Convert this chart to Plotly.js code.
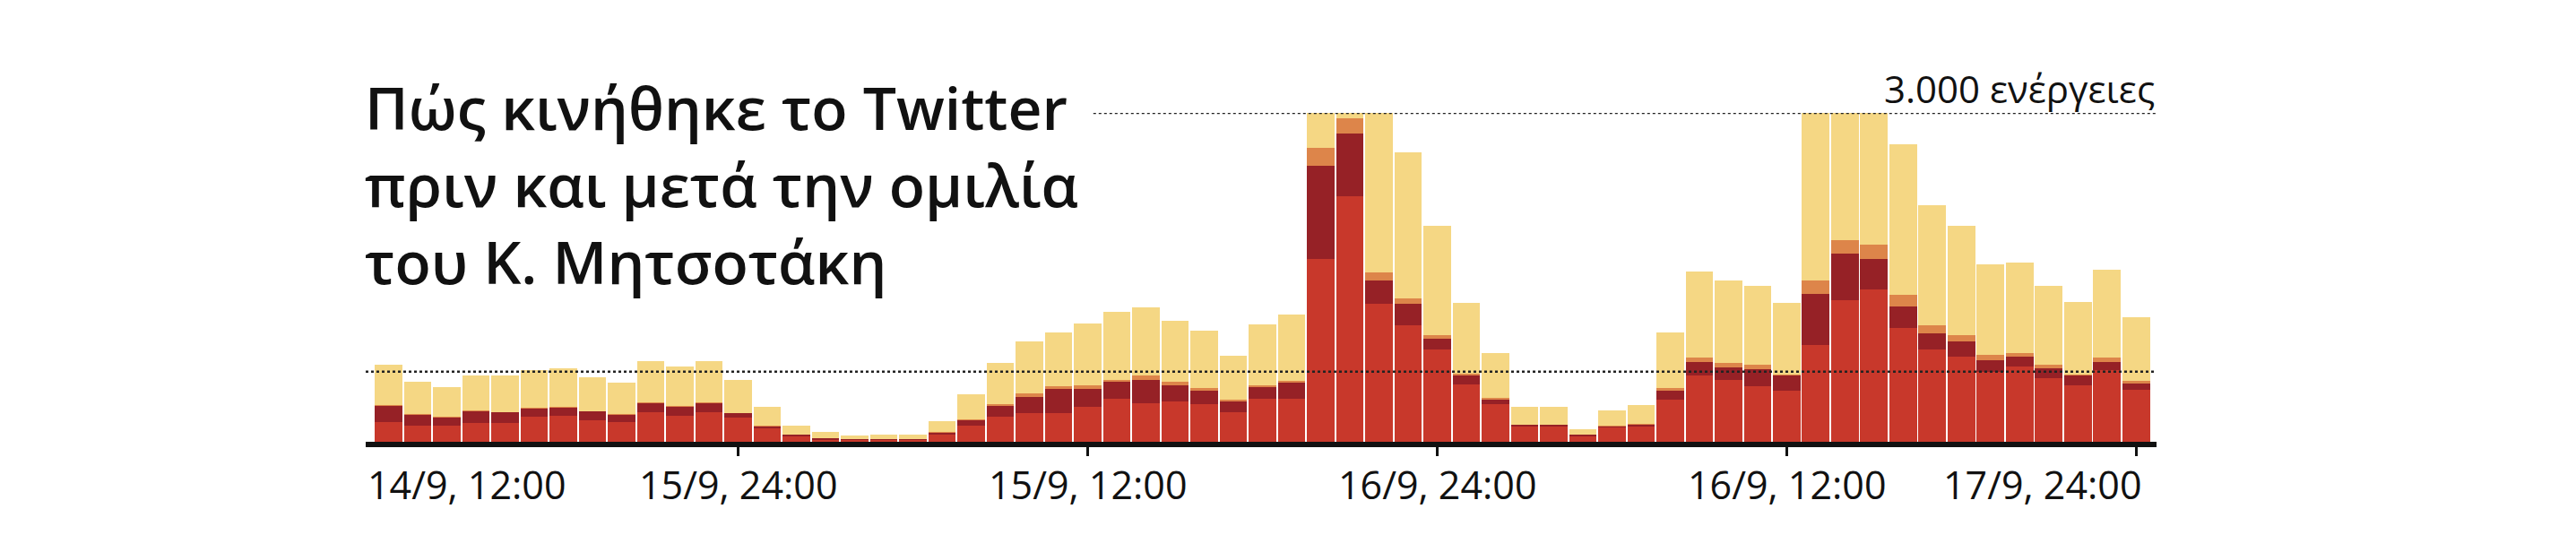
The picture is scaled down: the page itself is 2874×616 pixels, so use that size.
<!DOCTYPE html>
<html>
<head>
<meta charset="utf-8">
<script src="https://cdn.plot.ly/plotly-3.0.1.min.js"></script>
<style>
  html, body { margin: 0; padding: 0; background: #fff; }
  #chart { width: 2874px; height: 616px; }
</style>
</head>
<body>
<div id="chart"></div>
<script>
// hourly Twitter activity, 14/9 12:00 -> 17/9 24:00, four stacked layers (bottom to top)
const redVals = [183, 150, 150, 169, 169, 227, 238, 199, 183, 273, 238, 273,
    224, 123, 49, 19, 14, 14, 14, 68, 145, 232, 259, 265,
    319, 390, 355, 369, 341, 268, 396, 390, 1665, 2239, 1256, 1065,
    841, 527, 347, 142, 142, 49, 131, 137, 382, 609, 565, 505,
    464, 882, 1291, 1387, 1037, 846, 778, 636, 688, 581, 511, 655, 472];
const darkVals = [140, 95, 70, 110, 97, 72, 74, 75, 64, 80, 77, 75,
    35, 18, 16, 12, 7, 7, 7, 16, 55, 95, 150, 218,
    164, 160, 205, 142, 123, 101, 104, 150, 855, 573, 213, 191,
    101, 82, 41, 14, 14, 14, 11, 22, 82, 115, 117, 158,
    137, 464, 429, 278, 199, 145, 137, 109, 85, 87, 90, 76, 60];
const orangeVals = [10, 9, 6, 8, 7, 8, 8, 7, 7, 8, 8, 8,
    6, 4, 3, 2, 1, 1, 1, 3, 8, 19, 33, 27,
    35, 14, 41, 35, 27, 19, 19, 19, 161, 137, 74, 55,
    33, 14, 14, 2, 2, 1, 2, 3, 27, 41, 41, 38,
    14, 123, 123, 137, 106, 74, 60, 52, 33, 33, 14, 41, 22];
const yellowVals = [371, 292, 270, 322, 328, 349, 349, 306, 284, 377, 366, 382,
    303, 175, 82, 55, 33, 41, 41, 98, 229, 376, 472, 491,
    560, 624, 622, 560, 519, 399, 554, 601, 469, 250, 1600, 1330,
    996, 642, 404, 164, 164, 53, 143, 174, 505, 786, 745, 723,
    655, 1650, 1300, 1350, 1373, 1092, 996, 819, 833, 718, 663, 797, 579];

const tickPos = [0, 12, 24, 36, 48, 60];
const tickText = ['14/9, 12:00', '15/9, 24:00', '15/9, 12:00', '16/9, 24:00', '16/9, 12:00', '17/9, 24:00'];
const refLevels = [640, 3000];
const capLabel = '3.000 ενέργειες';
const titleLines = ['Πώς κινήθηκε το Twitter', 'πριν και μετά την ομιλία', 'του Κ. Μητσοτάκη'];

const hours = redVals.map((v, i) => i);

const colors = ['#c8382b', '#962126', '#dd854a', '#f5d784'];
const layers = [redVals, darkVals, orangeVals, yellowVals];

const traces = layers.map((vals, k) => ({
    type: 'bar',
    x: hours,
    y: vals,
    marker: { color: colors[k], line: { width: 0 } },
    hoverinfo: 'skip'
}));

const font = 'Open Sans, Noto Sans, DejaVu Sans, sans-serif';

let annotations = [];
tickText.forEach((t, i) => {
    let anchor = 'center';
    let shift = 0;
    if (i === 0) { anchor = 'left'; shift = -25; }
    if (i === tickText.length - 1) { anchor = 'right'; shift = 8; }
    annotations.push({
        xref: 'x', yref: 'paper', x: tickPos[i], y: 0,
        xanchor: anchor, yanchor: 'top', xshift: shift, yshift: -16,
        text: t, showarrow: false,
        font: { family: font, size: 43, color: '#111' }
    });
});

annotations.push({
    xref: 'paper', yref: 'y', x: 1, y: refLevels[1],
    xanchor: 'right', yanchor: 'bottom', yshift: -3,
    text: capLabel, showarrow: false,
    font: { family: font, size: 42, color: '#111' }
});

// title block, one text with line breaks
annotations.push({
    xref: 'paper', yref: 'paper', x: 0, y: 0.785,
    xanchor: 'left', yanchor: 'middle', align: 'left', xshift: -3,
    text: titleLines.join('<br>'), showarrow: false,
    font: { family: font, size: 66, weight: 600, color: '#111' }
});

const layout = {
    width: 2874,
    height: 616,
    margin: { l: 408, r: 468, t: 126, b: 123 },
    paper_bgcolor: '#fff',
    plot_bgcolor: '#fff',
    barmode: 'stack',
    bargap: 0.06,
    showlegend: false,
    xaxis: {
        range: [-0.78, 60.7],
        showgrid: false,
        zeroline: false,
        showline: true,
        linewidth: 6,
        linecolor: '#111',
        ticks: 'outside',
        tickvals: tickPos.slice(1),
        ticklen: 10,
        tickwidth: 3,
        tickcolor: '#111',
        showticklabels: false
    },
    yaxis: {
        range: [0, 3000],
        showgrid: false,
        zeroline: false,
        showticklabels: false,
        showline: false
    },
    shapes: [
        { type: 'line', xref: 'paper', yref: 'y', x0: 0, x1: 1, y0: refLevels[0], y1: refLevels[0],
          layer: 'above', line: { color: '#222', width: 2.5, dash: 'dot' } },
        { type: 'line', xref: 'x', yref: 'y', x0: 24.2, x1: 60.7, y0: refLevels[1], y1: refLevels[1],
          layer: 'above', line: { color: '#222', width: 2.5, dash: 'dot' } }
    ],
    annotations: annotations
};

Plotly.newPlot('chart', traces, layout, { displayModeBar: false, staticPlot: true });
</script>
</body>
</html>
